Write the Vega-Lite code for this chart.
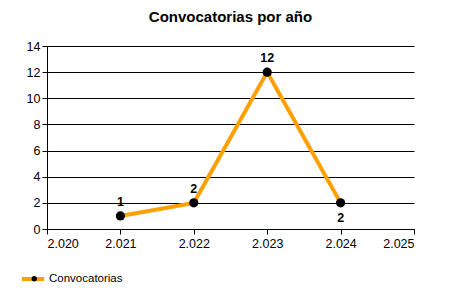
{
  "$schema": "https://vega.github.io/schema/vega-lite/v6.json",
  "autosize": {"type": "none"},
  "width": 367,
  "height": 183,
  "padding": {"left": 47, "top": 46, "right": 36, "bottom": 71},
  "background": "white",
  "title": {"text": "Convocatorias por año", "font": "Liberation Sans", "fontSize": 15, "fontWeight": "bold", "color": "black", "anchor": "middle", "offset": 15},
  "config": {
    "view": {"stroke": null},
    "font": "Liberation Sans",
    "axis": {"labelFont": "Liberation Sans", "labelFontSize": 12.5, "labelColor": "black", "domainColor": "black", "tickColor": "black", "titleColor": "black"}
  },
  "data": {"values": [
    {"year": 2021, "value": 1},
    {"year": 2022, "value": 2},
    {"year": 2023, "value": 12},
    {"year": 2024, "value": 2}
  ]},
  "encoding": {
    "x": {"field": "year", "type": "quantitative", "title": null,
      "scale": {"domain": [2020, 2025], "nice": false, "zero": false},
      "axis": {"values": [2020, 2021, 2022, 2023, 2024, 2025], "grid": false, "tickSize": 5, "labelPadding": 3, "labelExpr": "replace(format(datum.value, ','), ',', '.')"}},
    "y": {"field": "value", "type": "quantitative", "title": null,
      "scale": {"domain": [0, 14], "nice": false},
      "axis": {"values": [0, 2, 4, 6, 8, 10, 12, 14], "grid": true, "gridColor": "black", "gridOpacity": 1, "gridWidth": 1, "tickSize": 5, "labelPadding": 2}}
  },
  "layer": [
    {
      "mark": {"type": "line", "strokeWidth": 4},
      "encoding": {
        "color": {"datum": "Convocatorias", "type": "nominal", "scale": {"range": ["#FFA000"]},
          "legend": {"orient": "none", "legendX": -27, "legendY": 220, "title": null, "symbolType": "stroke", "symbolSize": 484, "symbolStrokeWidth": 4, "labelFontSize": 11.5, "labelColor": "black", "labelFont": "Liberation Sans", "labelOffset": 3}}
      }
    },
    {
      "mark": {"type": "point", "filled": true, "opacity": 1, "size": 85},
      "encoding": {
        "fill": {"datum": "Convocatorias ", "type": "nominal", "scale": {"range": ["black"]},
          "legend": {"orient": "none", "legendX": -18.5, "legendY": 227, "title": null, "symbolType": "circle", "symbolSize": 28, "symbolFillColor": "black", "symbolStrokeWidth": 0, "labelExpr": "''", "labelFontSize": 11.5, "labelOffset": 0}},
        "color": {"value": "black"}
      }
    },
    {
      "transform": [{"filter": "datum.year != 2024"}],
      "mark": {"type": "text", "fontWeight": "bold", "fontSize": 12.5, "color": "black", "dy": -14},
      "encoding": {"text": {"field": "value", "type": "quantitative"}}
    },
    {
      "transform": [{"filter": "datum.year == 2024"}],
      "mark": {"type": "text", "fontWeight": "bold", "fontSize": 12.5, "color": "black", "dy": 15},
      "encoding": {"text": {"field": "value", "type": "quantitative"}}
    }
  ]
}
